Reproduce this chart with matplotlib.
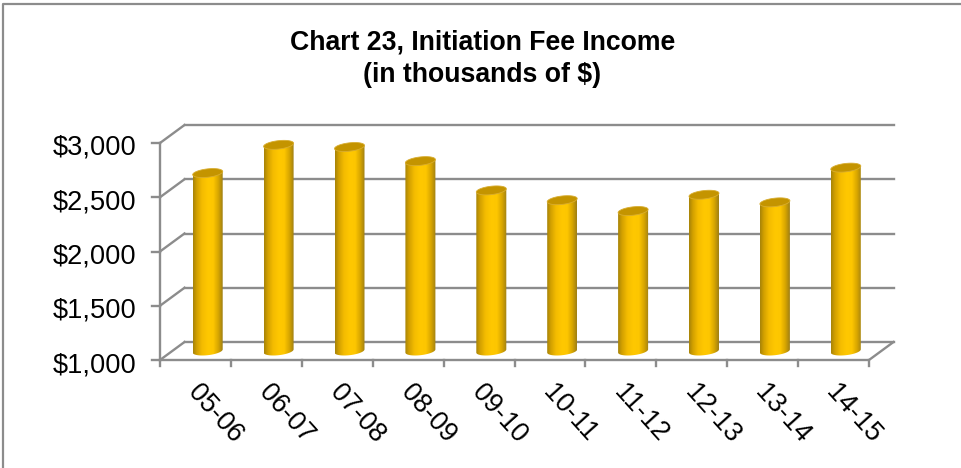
import numpy as np
import matplotlib
matplotlib.use("Agg")
import matplotlib.pyplot as plt
from matplotlib.colors import LinearSegmentedColormap
from matplotlib.lines import Line2D
from matplotlib.patches import Polygon

plt.rcParams["font.family"] = ["Liberation Sans", "DejaVu Sans"]

# values
seasons = ["05-06", "06-07", "07-08", "08-09", "09-10",
           "10-11", "11-12", "12-13", "13-14", "14-15"]
fee_income = [2640, 2900, 2880, 2750, 2480, 2390, 2290, 2440, 2370, 2690]
y_ticks = [1000, 1500, 2000, 2500, 3000]
y_labels = ["$1,000", "$1,500", "$2,000", "$2,500", "$3,000"]

W, H = 961, 468
grid_col = "#8c8c8c"
fig = plt.figure(figsize=(W / 100, H / 100), dpi=100)

# axes = front plane of the fake 3d box
left, right, top, bottom = 160, 869, 143, 360
ax = fig.add_axes([left / W, 1 - bottom / H, (right - left) / W, (bottom - top) / H])
ax.set_xlim(-0.5, 9.5)
ax.set_ylim(1000, 3000)
ax.axis("off")

# depth of the box in data units
px_x = 10 / (right - left)
px_y = 2000 / (bottom - top)
depth_x = 24.5 * px_x
depth_y = 18 * px_y

# walls and floor
for t in y_ticks:
    ax.plot([-0.5, -0.5 + depth_x], [t, t + depth_y], color=grid_col, lw=1.7, clip_on=False, zorder=1)
    ax.plot([-0.5 + depth_x, 9.5 + depth_x], [t + depth_y, t + depth_y], color=grid_col, lw=1.7,
            clip_on=False, zorder=1)
    ax.plot([-0.5 - 8 * px_x, -0.5], [t, t], color=grid_col, lw=1.7, clip_on=False, zorder=1)
ax.plot([-0.5, -0.5], [1000, 3000], color=grid_col, lw=1.7, clip_on=False, zorder=1)
ax.plot([-0.5, 9.5, 9.5 + depth_x], [1000, 1000, 1000 + depth_y], color=grid_col, lw=1.7,
        clip_on=False, zorder=1)
for i in range(11):
    ax.plot([i - 0.5, i - 0.5], [1000, 1000 - 6 * px_y], color=grid_col, lw=1.7, clip_on=False, zorder=1)

# tick labels
for t, lab in zip(y_ticks, y_labels):
    ax.text(-0.5 - 24 * px_x, t - 5 * px_y, lab, ha="right", va="center", fontsize=19.6,
            color="black", clip_on=False)
for i, lab in enumerate(seasons):
    ax.text(i - 3 * px_x, 1000 - 28 * px_y, lab, rotation=-48, rotation_mode="anchor",
            ha="left", va="center", fontsize=19.4, color="black", clip_on=False)

# cylinders: horizontal gradient clipped to a slightly tilted outline
cmap = LinearSegmentedColormap.from_list("gold", [(0, "#a88408"), (0.12, "#d2a000"), (0.3, "#f4bc00"),
                                                  (0.5, "#ffc800"), (0.68, "#fdc600"), (0.85, "#d8a600"),
                                                  (1, "#a08014")])
grad = np.linspace(0, 1, 64).reshape(1, -1)
half_w = 15 * px_x
ell_h = 4.2 * px_y
tilt = 1.6 * px_y
th = np.linspace(0, 2 * np.pi, 60)


def ellipse(cx, cy):
    xs = cx + half_w * np.cos(th)
    ys = cy + ell_h * np.sin(th) + tilt * np.cos(th)
    return np.column_stack([xs, ys])


for i, val in enumerate(fee_income):
    cx = i + depth_x / 2
    base = 1000 + depth_y / 2
    topy = val + depth_y / 2
    # lower half of base, then up to the top
    low = np.linspace(np.pi, 2 * np.pi, 30)
    lower = np.column_stack([cx + half_w * np.cos(low),
                             base + ell_h * np.sin(low) + tilt * np.cos(low)])
    outline = np.vstack([lower, [[cx + half_w, topy + tilt]], [[cx - half_w, topy - tilt]]])
    im = ax.imshow(grad, extent=[cx - half_w, cx + half_w, base - 2 * ell_h, topy + 2 * ell_h],
                   cmap=cmap, aspect="auto", zorder=3, interpolation="bilinear")
    im.set_clip_path(Polygon(outline, closed=True, transform=ax.transData))
    ax.add_patch(Polygon(ellipse(cx, topy), closed=True, facecolor="#c49400", edgecolor="#d8ad30",
                         lw=0.6, zorder=4, clip_on=False))

ax.set_xlim(-0.5, 9.5)
ax.set_ylim(1000, 3000)

# title
fig.text(482.5 / W, 1 - 42 / H, "Chart 23, Initiation Fee Income", ha="center", va="center",
         fontsize=19.2, fontweight="bold", color="black")
fig.text(482.5 / W, 1 - 75 / H, "(in thousands of $)", ha="center", va="center",
         fontsize=19.2, fontweight="bold", color="black")

# outer chart border, only top and left show
fig.add_artist(Line2D([2.5 / W, 2.5 / W, 1], [0, 1 - 3.5 / H, 1 - 3.5 / H], color=grid_col, lw=1.6))

fig.savefig("out.png", dpi=100)
